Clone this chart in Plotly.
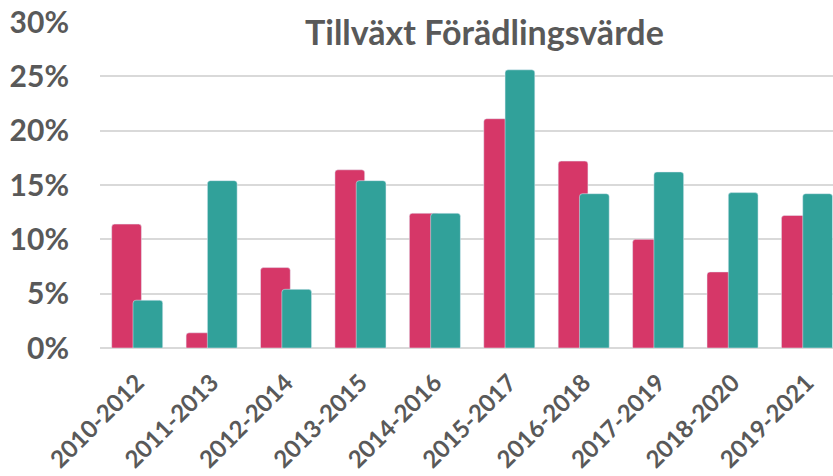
import plotly.graph_objects as go

categories = ["2010-2012", "2011-2013", "2012-2014", "2013-2015", "2014-2016",
              "2015-2017", "2016-2018", "2017-2019", "2018-2020", "2019-2021"]
series_pink = [0.114, 0.014, 0.074, 0.164, 0.124, 0.211, 0.172, 0.100, 0.070, 0.122]
series_teal = [0.044, 0.154, 0.054, 0.154, 0.124, 0.256, 0.142, 0.162, 0.143, 0.142]
y_ticks = [0, 0.05, 0.10, 0.15, 0.20, 0.25, 0.30]
title_text = "Tillväxt Förädlingsvärde"

PINK = "#D63768"
TEAL = "#31A19A"
GRAY = "#595959"
FONT = "Lato"

fig = go.Figure()
fig.add_trace(go.Bar(x=categories, y=series_pink, marker=dict(color=PINK, cornerradius=3),
                     width=0.40, offset=-0.343, name="A", hoverinfo="skip"))
fig.add_trace(go.Bar(x=categories, y=series_teal, marker=dict(color=TEAL, cornerradius=3),
                     width=0.40, offset=-0.057, name="B", hoverinfo="skip"))

fig.update_layout(
    width=833, height=476,
    margin=dict(l=100, r=0, t=22, b=128),
    barmode="overlay",
    plot_bgcolor="white", paper_bgcolor="white",
    showlegend=False,
    font=dict(family=FONT, color=GRAY),
    annotations=[dict(text="<b>" + title_text + "</b>", x=0.525, y=0.972,
                      xref="paper", yref="paper", xanchor="center", yanchor="middle",
                      showarrow=False, font=dict(family=FONT, size=34, color=GRAY))],
)
fig.update_yaxes(range=[0, 0.3], tickvals=y_ticks, tickformat=".0%", automargin=False,
                 showgrid=True, gridcolor="#D9D9D9", gridwidth=1.5,
                 zeroline=True, zerolinecolor="#D9D9D9", zerolinewidth=1.5,
                 showline=False, ticks="", ticklabelstandoff=30,
                 tickfont=dict(family=FONT, size=30, color=GRAY, weight="bold"))
fig.update_xaxes(range=[-0.5, 9.35], tickangle=-45, showgrid=False, showline=False, ticks="",
                 automargin=False, ticklabelstandoff=15,
                 tickfont=dict(family=FONT, size=24, color=GRAY, weight="bold"))

fig.write_html("out.html", config={"displayModeBar": False},
               post_script="document.body.style.margin='0px';document.body.style.overflow='hidden';")
